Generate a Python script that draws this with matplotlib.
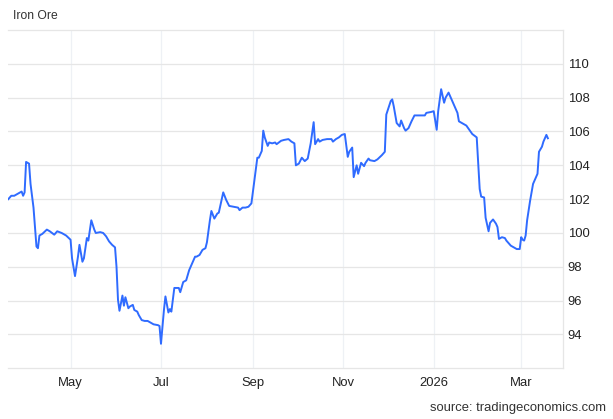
import matplotlib
matplotlib.use("Agg")
import matplotlib.pyplot as plt
import pandas as pd

plt.rcParams['font.family'] = ['Liberation Sans', 'DejaVu Sans']

# iron ore price
dates_2025 = [
    "03-20", "03-22", "03-24", "03-26", "03-29", "03-30", "03-31", "04-01", "04-03", "04-04",
    "04-06", "04-08", "04-09", "04-10", "04-12", "04-15", "04-17", "04-20", "04-22", "04-25",
    "04-28", "05-01", "05-02", "05-04", "05-06", "05-07", "05-09", "05-10", "05-12", "05-13",
    "05-15", "05-17", "05-18", "05-21", "05-23", "05-25", "05-27", "05-29", "05-31", "06-01",
    "06-02", "06-03", "06-05", "06-06", "06-07", "06-09", "06-10", "06-12", "06-13", "06-15",
    "06-16", "06-18", "06-20", "06-22", "06-24", "06-26", "06-29", "06-30", "07-01", "07-03",
    "07-04", "07-06", "07-07", "07-08", "07-10", "07-13", "07-14", "07-16", "07-18", "07-20",
    "07-22", "07-24", "07-25", "07-27", "07-29", "07-31", "08-01", "08-03", "08-04", "08-06",
    "08-08", "08-09", "08-12", "08-14", "08-16", "08-19", "08-22", "08-23", "08-25", "08-27",
    "08-29", "08-31", "09-02", "09-04", "09-05", "09-07", "09-08", "09-09", "09-11", "09-12",
    "09-14", "09-16", "09-17", "09-20", "09-22", "09-25", "09-27", "09-29", "09-30", "10-02",
    "10-04", "10-06", "10-08", "10-10", "10-12", "10-13", "10-15", "10-16", "10-18", "10-21",
    "10-24", "10-25", "10-27", "10-29", "10-31", "11-02", "11-04", "11-05", "11-07", "11-08",
    "11-10", "11-11", "11-13", "11-15", "11-16", "11-18", "11-19", "11-22", "11-24", "11-27",
    "11-29", "11-30", "12-03", "12-04", "12-05", "12-07", "12-09", "12-10", "12-12", "12-13",
    "12-15", "12-17", "12-19", "12-22", "12-26", "12-27", "12-30",
]
prices_2025 = [
    102.0, 102.2, 102.2, 102.3, 102.45, 102.2, 102.4, 104.2, 104.1, 102.9,
    101.5, 99.2, 99.1, 99.85, 99.95, 100.2, 100.1, 99.9, 100.1, 100.0,
    99.85, 99.6, 98.5, 97.45, 98.6, 99.3, 98.3, 98.5, 99.7, 99.55,
    100.75, 100.2, 100.0, 100.05, 100.0, 99.8, 99.5, 99.3, 99.15, 98.0,
    96.05, 95.4, 96.3, 95.7, 96.2, 95.55, 95.65, 95.75, 95.45, 95.35,
    95.15, 94.85, 94.8, 94.8, 94.7, 94.6, 94.55, 94.5, 93.45, 95.45,
    96.25, 95.3, 95.5, 95.35, 96.75, 96.75, 96.5, 97.1, 97.2, 97.8,
    98.2, 98.6, 98.6, 98.7, 99.0, 99.1, 99.45, 100.75, 101.3, 100.85,
    101.15, 101.2, 102.4, 101.95, 101.6, 101.55, 101.5, 101.35, 101.5, 101.5,
    101.55, 101.75, 103.1, 104.45, 104.45, 104.85, 106.05, 105.65, 105.15, 105.35,
    105.3, 105.35, 105.25, 105.45, 105.5, 105.55, 105.4, 105.3, 104.0, 104.1,
    104.45, 104.25, 104.4, 105.3, 106.55, 105.25, 105.55, 105.4, 105.5, 105.55,
    105.55, 105.4, 105.55, 105.65, 105.8, 105.85, 104.5, 104.8, 105.05, 103.3,
    104.0, 103.5, 104.15, 103.95, 104.15, 104.4, 104.3, 104.25, 104.35, 104.6,
    104.8, 107.0, 107.8, 107.9, 107.5, 106.5, 106.3, 106.65, 106.2, 106.05,
    106.2, 106.6, 106.95, 106.95, 106.95, 107.1, 107.15,
]
dates_2026 = [
    "01-01", "01-03", "01-04", "01-06", "01-08", "01-09", "01-11", "01-13", "01-15", "01-17",
    "01-18", "01-20", "01-23", "01-25", "01-27", "01-30", "01-31", "02-01", "02-02", "02-04",
    "02-05", "02-07", "02-08", "02-10", "02-12", "02-13", "02-14", "02-16", "02-18", "02-19",
    "02-21", "02-22", "02-24", "02-26", "02-28", "03-01", "03-02", "03-03", "03-04", "03-05",
    "03-07", "03-09", "03-11", "03-12", "03-13", "03-15", "03-16", "03-18", "03-19",
]
prices_2026 = [
    107.2, 106.1, 107.2, 108.5, 107.7, 108.0, 108.3, 107.9, 107.5, 107.1,
    106.6, 106.5, 106.35, 106.1, 105.85, 105.65, 104.1, 102.6, 102.15, 102.1,
    100.9, 100.1, 100.6, 100.8, 100.55, 100.35, 99.65, 99.75, 99.7, 99.55,
    99.35, 99.25, 99.15, 99.05, 99.05, 99.75, 99.6, 99.55, 99.85, 100.75,
    101.9, 102.9, 103.3, 103.5, 104.8, 105.1, 105.4, 105.8, 105.6,
]

tick_dates = ["2025-05-01", "2025-07-01", "2025-09-01", "2025-11-01", "2026-01-01", "2026-03-01"]
tick_labels = ["May", "Jul", "Sep", "Nov", "2026", "Mar"]
y_ticks = [94, 96, 98, 100, 102, 104, 106, 108, 110]

dates = pd.to_datetime(["2025-" + d for d in dates_2025] + ["2026-" + d for d in dates_2026])
prices = prices_2025 + prices_2026

fig = plt.figure(figsize=(6.13, 4.19), dpi=100)
ax = fig.add_axes([0.01354, 0.121, 0.9044, 0.8074])

ax.plot(dates, prices, color="#2f6bff", lw=1.4, solid_joinstyle="round")

ax.set_xlim(pd.Timestamp("2025-03-20"), pd.Timestamp("2026-03-29"))
ax.set_ylim(92, 112)

ax.set_xticks(pd.to_datetime(tick_dates))
ax.set_xticklabels(tick_labels)
ax.set_yticks(y_ticks)
ax.yaxis.tick_right()
ax.tick_params(axis="both", length=0, labelsize=9.4, colors="#222222")
ax.tick_params(axis="x", pad=6)
ax.tick_params(axis="y", pad=3.6)

ax.grid(axis="y", color="#e6e6e6", lw=0.9)
ax.grid(axis="x", color="#eef1f5", lw=0.9)
ax.set_axisbelow(True)
for side in ["top", "bottom", "right"]:
    ax.spines[side].set_color("#e6e6e6")
    ax.spines[side].set_linewidth(0.9)
ax.spines["left"].set_visible(False)

fig.text(13 / 613, 1 - 16 / 419, "Iron Ore", fontsize=8.7, color="#333333", va="center")
fig.text(606 / 613, 1 - 408 / 419, "source: tradingeconomics.com", fontsize=9.4,
         color="#333333", ha="right", va="center")

fig.savefig("out.png", dpi=100)
